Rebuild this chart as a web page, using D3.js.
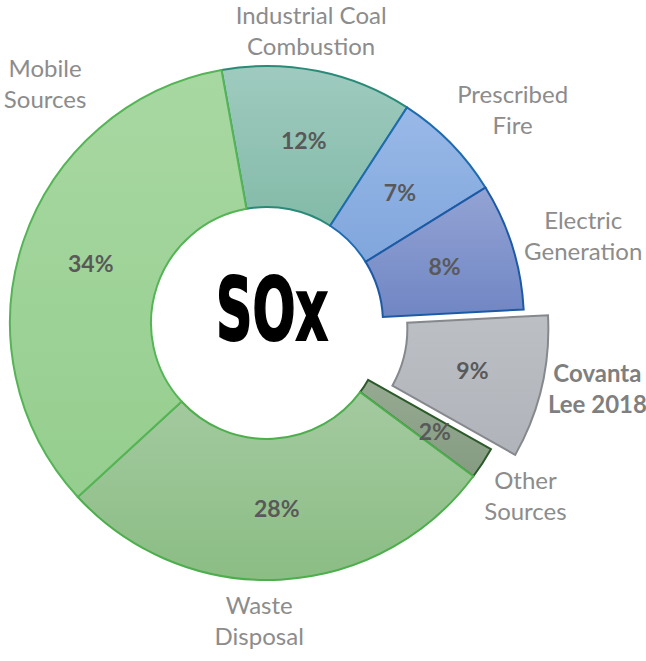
<!DOCTYPE html>
<html>
<head>
<meta charset="utf-8">
<script src="https://cdn.jsdelivr.net/npm/d3@7"></script>
<style>
    body{margin:0;background:#fff;}
</style>
</head>
<body>
<div id="chart"></div>
<script>
//chart data
var categories=["Industrial Coal Combustion","Prescribed Fire","Electric Generation","Covanta Lee 2018","Other Sources","Waste Disposal","Mobile Sources"];
var labelLines=[["Industrial Coal","Combustion"],["Prescribed","Fire"],["Electric","Generation"],["Covanta","Lee 2018"],["Other","Sources"],["Waste","Disposal"],["Mobile","Sources"]];
var shares=[12,7,8,9,2,28,34];
var highlight="Covanta Lee 2018";
var centerTitle="SOx";

//colours: [top of gradient, bottom of gradient, outline]
var fills=[
    ["#9fcbbf","#83baa8","#2a8a78"],
    ["#99b9e8","#80a6dc","#1e6bb0"],
    ["#93a3d4","#7086c4","#1d5aa6"],
    ["#bcbfc4","#b0b4ba","#85888d"],
    ["#95aa91","#869c82","#2c5a2a"],
    ["#a4caa0","#8bbd84","#4cae4c"],
    ["#a8d8a2","#95ce8e","#55b455"]
];

//1. svg size
var svgwidth=646,svgheight=661;
var _svg=d3.select("#chart")
    .append("svg")
    .attr("width",svgwidth)
    .attr("height",svgheight);
//2. ring geometry
var cx=267,cy=323;
var innerR=116,outerR=257;
var explode=25;
var startDeg=-10.2;

//label placement around ring [angle deg, radius]
var labelAt=[[8.6,295],[49.1,325],[74.6,328],[101.2,312],[123.8,311],[181.5,298],[317.1,326]];

//3. gradients
var defs=_svg.append("defs");
fills.forEach(function(c,i){
    var g=defs.append("linearGradient")
        .attr("id","grad"+i)
        .attr("x1","0").attr("y1","0")
        .attr("x2","0").attr("y2","1");
    g.append("stop").attr("offset","0%").attr("stop-color",c[0]);
    g.append("stop").attr("offset","100%").attr("stop-color",c[1]);
});

var rows=d3.range(shares.length).map(function(i){
    return {name:categories[i],lines:labelLines[i],value:shares[i],idx:i};
});

var pie=d3.pie()
    .sort(null)
    .value(function(d){return d.value;})
    .startAngle(startDeg*Math.PI/180)
    .endAngle(startDeg*Math.PI/180+2*Math.PI);
var arcs=pie(rows);

var arc=d3.arc()
    .innerRadius(innerR)
    .outerRadius(outerR);

//offset for exploded slice
function shift(d){
    if(d.data.name!==highlight) return [0,0];
    var m=(d.startAngle+d.endAngle)/2;
    return [explode*Math.sin(m),-explode*Math.cos(m)];
}

var _g=_svg.append("g")
    .attr("transform","translate("+cx+","+cy+")");

//4. slices
_g.append("g")
    .attr("class","slices")
    .selectAll("path")
    .data(arcs)
    .enter()
    .append("path")
    .attr("d",arc)
    .attr("transform",function(d){
        var s=shift(d);
        return "translate("+s[0]+","+s[1]+")";
    })
    .attr("fill",function(d){return "url(#grad"+d.data.idx+")";})
    .attr("stroke",function(d){return fills[d.data.idx][2];})
    .attr("stroke-width",2)
    .attr("stroke-linejoin","miter");

//5. percentage labels
var pctArc=d3.arc().innerRadius(186).outerRadius(186);
var smallArc=d3.arc().innerRadius(200).outerRadius(200);
_g.append("g")
    .attr("class","pct")
    .selectAll("text")
    .data(arcs)
    .enter()
    .append("text")
    .attr("transform",function(d){
        var s=shift(d);
        var c=d.data.value<5?smallArc.centroid(d):pctArc.centroid(d);
        return "translate("+(c[0]+s[0])+","+(c[1]+s[1])+")";
    })
    .attr("text-anchor","middle")
    .attr("dy","0.35em")
    .attr("font-family","Lato, 'Open Sans', sans-serif")
    .attr("font-weight","bold")
    .attr("font-size","23px")
    .attr("fill","#595959")
    .text(function(d){return d.data.value+"%";});

//6. category labels
var cat=_g.append("g")
    .attr("class","cats")
    .selectAll("text")
    .data(arcs)
    .enter()
    .append("text")
    .attr("transform",function(d){
        var s=shift(d);
        var p=labelAt[d.data.idx];
        var a=p[0]*Math.PI/180;
        return "translate("+(p[1]*Math.sin(a)+s[0])+","+(-p[1]*Math.cos(a)+s[1])+")";
    })
    .attr("text-anchor","middle")
    .attr("font-family","Lato, 'Open Sans', sans-serif")
    .attr("font-size","24px")
    .attr("font-weight",function(d){return d.data.name===highlight?"bold":"normal";})
    .attr("fill",function(d){return d.data.name===highlight?"#7f7f7f":"#8c8c8c";});
cat.selectAll("tspan")
    .data(function(d){return d.data.lines;})
    .enter()
    .append("tspan")
    .attr("x",0)
    .attr("y",function(d,i,n){return (i-(n.length-1)/2)*31;})
    .attr("dy","0.35em")
    .text(function(d){return d;});

//7. centre title
_g.append("text")
    .attr("x",5)
    .attr("y",17)
    .attr("text-anchor","middle")
    .attr("font-family","'DejaVu Sans Condensed', 'DejaVu Sans', sans-serif")
    .attr("font-weight","bold")
    .attr("font-size","88px")
    .attr("textLength",112)
    .attr("lengthAdjust","spacingAndGlyphs")
    .attr("fill","#000")
    .attr("stroke","#000")
    .attr("stroke-width",2)
    .text(centerTitle);
</script>
</body>
</html>
